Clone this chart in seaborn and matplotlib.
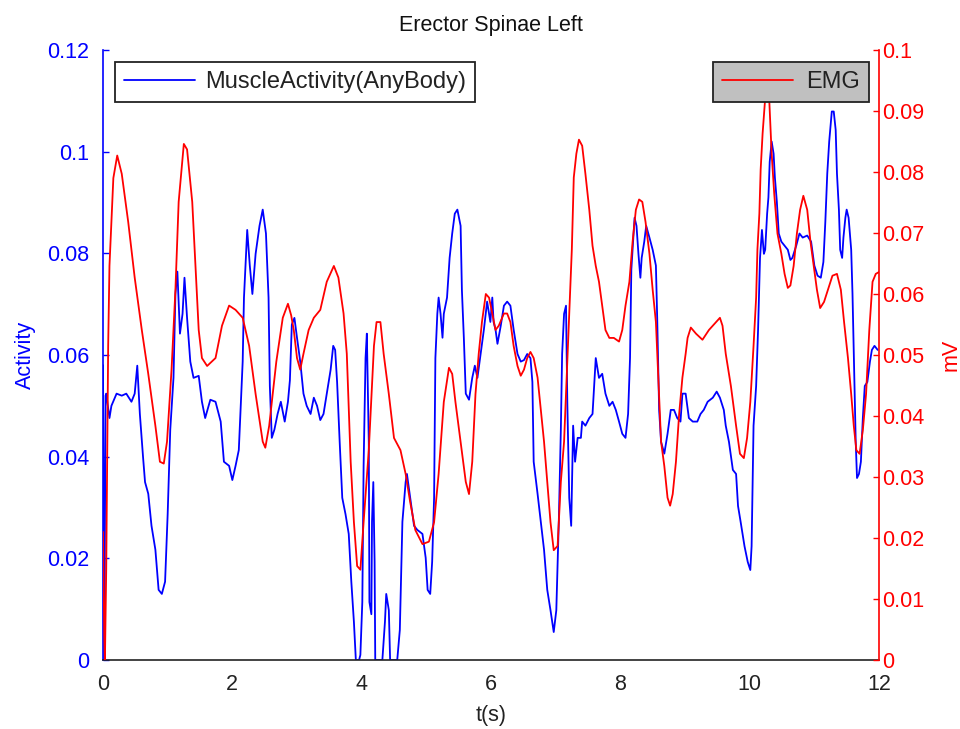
import matplotlib
matplotlib.use("Agg")
import matplotlib.pyplot as plt
import seaborn as sns
import pandas as pd

# ---------------- data ----------------
t_activity = [0.00, 0.01, 0.02, 0.03, 0.04, 0.05, 0.10, 0.13, 0.21, 0.29, 0.36, 0.44, 0.49, 0.53, 0.57,
              0.62, 0.65, 0.70, 0.75, 0.81, 0.86, 0.91, 0.96, 1.00, 1.04, 1.09, 1.12, 1.15, 1.19, 1.23,
              1.26, 1.30, 1.35, 1.40, 1.48, 1.53, 1.58, 1.66, 1.74, 1.82, 1.87, 1.95, 2.00, 2.05, 2.10,
              2.16, 2.18, 2.23, 2.27, 2.31, 2.36, 2.42, 2.47, 2.52, 2.56, 2.58, 2.61, 2.65, 2.70, 2.75,
              2.81, 2.86, 2.89, 2.92, 2.96, 3.00, 3.05, 3.10, 3.15, 3.21, 3.26, 3.31, 3.36, 3.41, 3.46,
              3.52, 3.56, 3.59, 3.62, 3.66, 3.70, 3.75, 3.80, 3.84, 3.88, 3.91, 3.96, 3.98, 4.01, 4.03,
              4.06, 4.08, 4.11, 4.12, 4.15, 4.16, 4.18, 4.20, 4.21, 4.32, 4.36, 4.38, 4.42, 4.44, 4.55,
              4.59, 4.63, 4.68, 4.70, 4.75, 4.81, 4.86, 4.94, 4.99, 5.02, 5.06, 5.09, 5.12, 5.14, 5.17,
              5.19, 5.22, 5.25, 5.27, 5.32, 5.36, 5.40, 5.44, 5.48, 5.53, 5.55, 5.58, 5.61, 5.66, 5.71,
              5.75, 5.79, 5.84, 5.89, 5.94, 5.99, 6.02, 6.04, 6.07, 6.10, 6.15, 6.20, 6.25, 6.30, 6.35,
              6.41, 6.46, 6.51, 6.56, 6.61, 6.64, 6.66, 6.72, 6.77, 6.82, 6.87, 6.92, 6.97, 7.01, 7.05,
              7.08, 7.10, 7.13, 7.16, 7.18, 7.21, 7.24, 7.27, 7.30, 7.34, 7.39, 7.41, 7.46, 7.52, 7.57,
              7.62, 7.67, 7.72, 7.77, 7.83, 7.88, 7.93, 7.98, 8.03, 8.08, 8.12, 8.15, 8.17, 8.20, 8.22,
              8.25, 8.28, 8.31, 8.33, 8.37, 8.40, 8.45, 8.50, 8.55, 8.57, 8.60, 8.63, 8.68, 8.73, 8.78,
              8.83, 8.88, 8.93, 8.96, 9.01, 9.06, 9.12, 9.19, 9.24, 9.29, 9.35, 9.43, 9.49, 9.54, 9.60,
              9.63, 9.68, 9.74, 9.79, 9.82, 9.86, 9.92, 9.97, 10.01, 10.03, 10.06, 10.10, 10.13, 10.16, 10.19,
              10.22, 10.24, 10.27, 10.29, 10.31, 10.34, 10.37, 10.39, 10.42, 10.45, 10.49, 10.54, 10.59, 10.63, 10.66,
              10.72, 10.77, 10.82, 10.89, 10.95, 11.00, 11.05, 11.10, 11.14, 11.17, 11.20, 11.23, 11.27, 11.30, 11.33,
              11.35, 11.38, 11.40, 11.43, 11.45, 11.48, 11.50, 11.53, 11.57, 11.59, 11.62, 11.64, 11.66, 11.69, 11.72,
              11.75, 11.78, 11.82, 11.86, 11.89, 11.93, 11.98]
activity = [0.058, 0.030, 0.000, 0.024, 0.052, 0.0524, 0.0476, 0.0500, 0.0524, 0.0520, 0.0524, 0.0508, 0.0524, 0.0579, 0.0484,
            0.0398, 0.0350, 0.0327, 0.0264, 0.0217, 0.0138, 0.0130, 0.0154, 0.0287, 0.0453, 0.0555, 0.0720, 0.0764, 0.0642, 0.0681,
            0.0752, 0.0673, 0.0587, 0.0555, 0.0559, 0.0508, 0.0476, 0.0512, 0.0508, 0.0469, 0.0390, 0.0382, 0.0354, 0.0382, 0.0413,
            0.0587, 0.0713, 0.0846, 0.0776, 0.0720, 0.0799, 0.0854, 0.0886, 0.0839, 0.0713, 0.0539, 0.0437, 0.0453, 0.0484, 0.0508,
            0.0469, 0.0508, 0.0550, 0.0660, 0.0673, 0.0634, 0.0587, 0.0524, 0.0500, 0.0484, 0.0516, 0.0500, 0.0472, 0.0484, 0.0524,
            0.0571, 0.0618, 0.0610, 0.0547, 0.0429, 0.0319, 0.0287, 0.0248, 0.0154, 0.0075, 0.0000, 0.0000, 0.0010, 0.0114, 0.0382,
            0.0594, 0.0642, 0.0429, 0.0114, 0.0090, 0.0272, 0.0350, 0.0193, 0.0000, 0.0000, 0.0075, 0.0130, 0.0098, 0.0000, 0.0000,
            0.0059, 0.0272, 0.0350, 0.0366, 0.0319, 0.0264, 0.0256, 0.0248, 0.0201, 0.0138, 0.0130, 0.0193, 0.0319, 0.0594, 0.0681,
            0.0713, 0.0681, 0.0634, 0.0681, 0.0713, 0.0791, 0.0839, 0.0878, 0.0886, 0.0854, 0.0728, 0.0634, 0.0524, 0.0512, 0.0555,
            0.0579, 0.0555, 0.0602, 0.0650, 0.0705, 0.0665, 0.0713, 0.0665, 0.0650, 0.0622, 0.0657, 0.0697, 0.0705, 0.0697, 0.0650,
            0.0602, 0.0587, 0.0590, 0.0602, 0.0594, 0.0547, 0.0390, 0.0327, 0.0272, 0.0217, 0.0138, 0.0098, 0.0055, 0.0098, 0.0280,
            0.0453, 0.0602, 0.0681, 0.0697, 0.0508, 0.0319, 0.0264, 0.0461, 0.0390, 0.0437, 0.0437, 0.0469, 0.0461, 0.0476, 0.0484,
            0.0594, 0.0555, 0.0563, 0.0524, 0.0500, 0.0508, 0.0492, 0.0469, 0.0445, 0.0437, 0.0484, 0.0594, 0.0768, 0.0831, 0.0870,
            0.0854, 0.0799, 0.0752, 0.0791, 0.0823, 0.0854, 0.0831, 0.0807, 0.0776, 0.0673, 0.0492, 0.0429, 0.0406, 0.0445, 0.0492,
            0.0492, 0.0476, 0.0469, 0.0524, 0.0524, 0.0476, 0.0469, 0.0469, 0.0484, 0.0492, 0.0508, 0.0516, 0.0528, 0.0516, 0.0492,
            0.0461, 0.0429, 0.0374, 0.0366, 0.0303, 0.0272, 0.0224, 0.0193, 0.0177, 0.0224, 0.0461, 0.0539, 0.0650, 0.0791, 0.0846,
            0.0799, 0.0807, 0.0878, 0.0910, 0.0980, 0.1020, 0.0996, 0.0949, 0.0902, 0.0839, 0.0823, 0.0815, 0.0807, 0.0787, 0.0791,
            0.0815, 0.0839, 0.0831, 0.0835, 0.0823, 0.0776, 0.0756, 0.0752, 0.0783, 0.0862, 0.0957, 0.1020, 0.1079, 0.1079, 0.1043,
            0.0957, 0.0886, 0.0807, 0.0791, 0.0831, 0.0870, 0.0886, 0.0870, 0.0807, 0.0721, 0.0547, 0.0429, 0.0358, 0.0366, 0.0390,
            0.0476, 0.0539, 0.0547, 0.0587, 0.0610, 0.0618, 0.0610]

t_emg = [0.00, 0.02, 0.03, 0.05, 0.08, 0.10, 0.16, 0.22, 0.29, 0.39, 0.49, 0.60, 0.70, 0.81, 0.88,
         0.94, 0.99, 1.06, 1.12, 1.17, 1.25, 1.30, 1.38, 1.43, 1.48, 1.53, 1.61, 1.74, 1.84, 1.95,
         2.05, 2.16, 2.26, 2.36, 2.47, 2.51, 2.57, 2.68, 2.78, 2.86, 2.91, 2.95, 3.00, 3.05, 3.10,
         3.18, 3.26, 3.36, 3.46, 3.57, 3.64, 3.72, 3.77, 3.83, 3.88, 3.93, 3.98, 4.03, 4.11, 4.19,
         4.23, 4.29, 4.34, 4.42, 4.50, 4.60, 4.68, 4.75, 4.83, 4.94, 5.04, 5.12, 5.19, 5.27, 5.35,
         5.40, 5.45, 5.53, 5.61, 5.66, 5.71, 5.76, 5.81, 5.86, 5.92, 5.97, 6.02, 6.07, 6.12, 6.20,
         6.25, 6.30, 6.35, 6.41, 6.46, 6.51, 6.56, 6.61, 6.66, 6.72, 6.77, 6.82, 6.87, 6.92, 6.97,
         7.03, 7.08, 7.13, 7.18, 7.22, 7.25, 7.28, 7.32, 7.36, 7.41, 7.46, 7.52, 7.57, 7.62, 7.67,
         7.72, 7.77, 7.83, 7.90, 7.98, 8.03, 8.08, 8.14, 8.19, 8.24, 8.29, 8.34, 8.39, 8.45, 8.50,
         8.55, 8.59, 8.63, 8.68, 8.73, 8.77, 8.81, 8.86, 8.91, 8.96, 9.01, 9.04, 9.09, 9.17, 9.27,
         9.37, 9.48, 9.54, 9.58, 9.63, 9.71, 9.79, 9.85, 9.91, 9.96, 10.01, 10.06, 10.10, 10.12, 10.15,
         10.17, 10.20, 10.23, 10.26, 10.30, 10.34, 10.38, 10.43, 10.49, 10.54, 10.59, 10.63, 10.68, 10.73, 10.78,
         10.83, 10.89, 10.94, 10.99, 11.04, 11.09, 11.15, 11.21, 11.28, 11.35, 11.41, 11.46, 11.52, 11.57, 11.61,
         11.65, 11.70, 11.75, 11.80, 11.85, 11.90, 11.95, 12.00]
emg = [0.0210, 0.0040, 0.0000, 0.0150, 0.0515, 0.0646, 0.0790, 0.0827, 0.0797, 0.0718, 0.0627, 0.0541, 0.0469, 0.0384, 0.0325,
       0.0322, 0.0358, 0.0476, 0.0607, 0.0751, 0.0846, 0.0837, 0.0751, 0.0646, 0.0541, 0.0495, 0.0482, 0.0495, 0.0548, 0.0581,
       0.0574, 0.0561, 0.0515, 0.0436, 0.0358, 0.0348, 0.0384, 0.0489, 0.0561, 0.0584, 0.0565, 0.0541, 0.0495, 0.0476, 0.0502,
       0.0541, 0.0561, 0.0574, 0.0620, 0.0646, 0.0627, 0.0568, 0.0502, 0.0325, 0.0226, 0.0154, 0.0148, 0.0226, 0.0344, 0.0515,
       0.0554, 0.0554, 0.0502, 0.0436, 0.0364, 0.0344, 0.0305, 0.0259, 0.0213, 0.0190, 0.0194, 0.0226, 0.0305, 0.0423, 0.0479,
       0.0469, 0.0423, 0.0358, 0.0292, 0.0272, 0.0325, 0.0436, 0.0502, 0.0554, 0.0600, 0.0594, 0.0568, 0.0541, 0.0548, 0.0568,
       0.0568, 0.0554, 0.0515, 0.0482, 0.0466, 0.0476, 0.0495, 0.0505, 0.0495, 0.0463, 0.0410, 0.0358, 0.0292, 0.0226, 0.0180,
       0.0187, 0.0292, 0.0358, 0.0489, 0.0594, 0.0673, 0.0791, 0.0830, 0.0853, 0.0843, 0.0797, 0.0738, 0.0679, 0.0646, 0.0620,
       0.0581, 0.0541, 0.0528, 0.0528, 0.0522, 0.0541, 0.0581, 0.0620, 0.0686, 0.0738, 0.0755, 0.0751, 0.0718, 0.0666, 0.0607,
       0.0554, 0.0456, 0.0358, 0.0318, 0.0266, 0.0253, 0.0272, 0.0325, 0.0404, 0.0463, 0.0502, 0.0528, 0.0545, 0.0535, 0.0525,
       0.0541, 0.0554, 0.0561, 0.0548, 0.0502, 0.0449, 0.0384, 0.0338, 0.0331, 0.0364, 0.0423, 0.0515, 0.0594, 0.0673, 0.0732,
       0.0804, 0.0863, 0.0906, 0.0950, 0.0925, 0.0830, 0.0764, 0.0699, 0.0666, 0.0633, 0.0610, 0.0614, 0.0646, 0.0699, 0.0738,
       0.0761, 0.0738, 0.0686, 0.0646, 0.0607, 0.0577, 0.0587, 0.0607, 0.0630, 0.0633, 0.0607, 0.0554, 0.0495, 0.0436, 0.0384,
       0.0344, 0.0338, 0.0377, 0.0436, 0.0541, 0.0620, 0.0633, 0.0636]

x_ticks = [0, 2, 4, 6, 8, 10, 12]
left_ticks = [0, 0.02, 0.04, 0.06, 0.08, 0.10, 0.12]
left_ticklabels = ["0", "0.02", "0.04", "0.06", "0.08", "0.1", "0.12"]
right_ticks = [0, 0.01, 0.02, 0.03, 0.04, 0.05, 0.06, 0.07, 0.08, 0.09, 0.10]
right_ticklabels = ["0", "0.01", "0.02", "0.03", "0.04", "0.05", "0.06", "0.07", "0.08", "0.09", "0.1"]

df_act = pd.DataFrame({"t": t_activity, "v": activity})
df_emg = pd.DataFrame({"t": t_emg, "v": emg})

# ---------------- style ----------------
sns.set_style("white")
plt.rcParams["font.family"] = ["Liberation Sans", "DejaVu Sans"]
FS = 15.5

W, H = 960, 729
fig = plt.figure(figsize=(W / 100, H / 100), dpi=100)
L, R, T, B = 103, 879, 50, 660
ax = fig.add_axes([L / W, 1 - B / H, (R - L) / W, (B - T) / H])
ax2 = ax.twinx()

sns.lineplot(data=df_act, x="t", y="v", ax=ax, color="#0000ff", lw=1.3,
             estimator=None, sort=False, label="MuscleActivity(AnyBody)")
sns.lineplot(data=df_emg, x="t", y="v", ax=ax2, color="#ff0000", lw=1.3,
             estimator=None, sort=False, label="EMG")

ax.set_xlim(0, 12)
ax.set_ylim(0, 0.12)
ax2.set_ylim(0, 0.1)
ax.set_xticks(x_ticks)
ax.set_xticklabels([str(v) for v in x_ticks], fontsize=FS, color="#222222")
ax.set_yticks(left_ticks)
ax.set_yticklabels(left_ticklabels, fontsize=FS, color="#0000ff")
ax2.set_yticks(right_ticks)
ax2.set_yticklabels(right_ticklabels, fontsize=FS, color="#ff0000")

ax.tick_params(axis="x", direction="in", length=4, width=1, color="#222222", pad=10)
ax.tick_params(axis="y", direction="in", length=4, width=1, color="#0000ff", pad=10)
ax2.tick_params(axis="y", direction="in", length=4, width=1, color="#ff0000", pad=2)

for a in (ax, ax2):
    a.spines["top"].set_visible(False)
    a.grid(False)
ax.spines["right"].set_visible(False)
ax2.spines["left"].set_visible(False)
ax2.spines["bottom"].set_visible(False)
ax.spines["left"].set_color("#0000ff")
ax.spines["bottom"].set_color("#222222")
ax2.spines["right"].set_color("#ff0000")
for s in ("left", "bottom"):
    ax.spines[s].set_linewidth(1.2)
ax2.spines["right"].set_linewidth(1.2)

ax.set_xlabel("t(s)", fontsize=FS, color="#222222", labelpad=7)
ax.set_ylabel("Activity", fontsize=FS, color="#0000ff", labelpad=8)
ax2.set_ylabel("mV", fontsize=FS, color="#ff0000", labelpad=12)
ax.set_title("Erector Spinae Left", fontsize=FS, color="#111111", pad=14)

leg1 = ax.legend(loc="upper left", bbox_to_anchor=(12 / (R - L), 1 - 12 / (B - T)),
                 borderaxespad=0, fontsize=FS + 1.5, frameon=True, fancybox=False,
                 framealpha=1, edgecolor="#222222", facecolor="white",
                 handlelength=3.0, handletextpad=0.45, borderpad=0.38)
leg1.get_frame().set_linewidth(1.3)
leg2 = ax2.legend(loc="upper right", bbox_to_anchor=(1 - 10 / (R - L), 1 - 12 / (B - T)),
                  borderaxespad=0, fontsize=FS + 1.5, frameon=True, fancybox=False,
                  framealpha=1, edgecolor="#222222", facecolor="#c0c0c0",
                  handlelength=3.0, handletextpad=0.55, borderpad=0.38)
leg2.get_frame().set_linewidth(1.3)
for lg in (leg1, leg2):
    for txt in lg.get_texts():
        txt.set_color("#222222")

fig.savefig("out.png", dpi=100)
